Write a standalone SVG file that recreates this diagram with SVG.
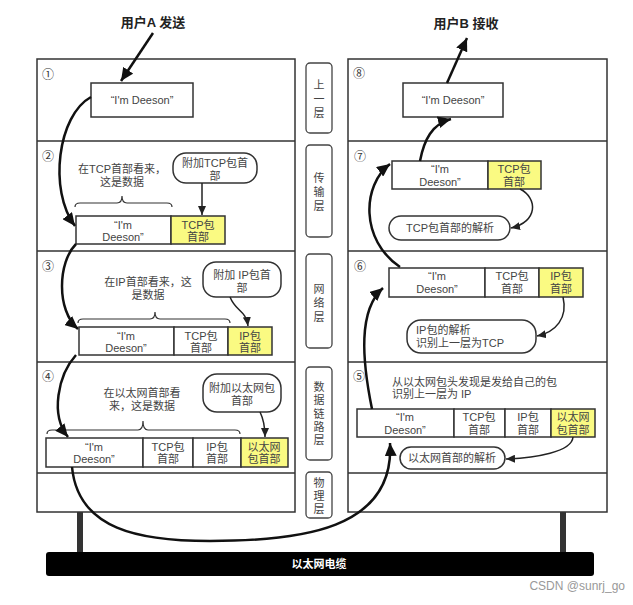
<svg xmlns="http://www.w3.org/2000/svg" width="633" height="605" viewBox="0 0 633 605">
<style>
.frame{fill:#fff;stroke:#333;stroke-width:1.5}
.div{stroke:#333;stroke-width:1.5}
.cell{fill:#fff;stroke:#333;stroke-width:1.5}
.hdr{fill:#fafa82;stroke:#333;stroke-width:1.5}
.bub{fill:#fff;stroke:#333;stroke-width:1.5}
.lay{fill:#fff;stroke:#444;stroke-width:1.3}
.t{font-family:"Liberation Sans","Noto Sans CJK SC",sans-serif;font-size:11px;fill:#444;text-anchor:middle;dominant-baseline:central}
.tl{text-anchor:start}
.num{font-family:"Noto Sans CJK SC","DejaVu Sans",sans-serif;font-size:12px;fill:#333;dominant-baseline:central;text-anchor:middle}
.title{font-family:"Liberation Sans","Noto Sans CJK SC",sans-serif;font-size:13px;font-weight:bold;fill:#222;text-anchor:middle;dominant-baseline:central}
.brace{fill:none;stroke:#333;stroke-width:1.2}
.big{fill:none;stroke:#111;stroke-width:2.5;marker-end:url(#ah)}
.sm{fill:none;stroke:#222;stroke-width:1.5;marker-end:url(#ahs)}
</style>
<defs>
<marker id="ah" markerUnits="userSpaceOnUse" markerWidth="14" markerHeight="12" refX="13" refY="6" orient="auto"><path d="M0,0 L13,6 L0,12 Z" fill="#111"/></marker>
<marker id="ahs" markerUnits="userSpaceOnUse" markerWidth="10" markerHeight="8" refX="9" refY="4" orient="auto"><path d="M0,0 L9,4 L0,8 Z" fill="#222"/></marker>
</defs>
<rect width="633" height="605" fill="#fff"/>

<g id="left-stack">
<rect class="frame" x="37" y="59" width="258" height="453"/>
<line class="div" x1="37" y1="141" x2="295" y2="141"/>
<line class="div" x1="37" y1="251" x2="295" y2="251"/>
<line class="div" x1="37" y1="362" x2="295" y2="362"/>
<line class="div" x1="37" y1="473" x2="295" y2="473"/>
</g>
<g id="right-stack">
<rect class="frame" x="348" y="59" width="259" height="453"/>
<line class="div" x1="348" y1="141" x2="607" y2="141"/>
<line class="div" x1="348" y1="251" x2="607" y2="251"/>
<line class="div" x1="348" y1="362" x2="607" y2="362"/>
<line class="div" x1="348" y1="473" x2="607" y2="473"/>
</g>

<g id="titleA"><text class="title" x="153" y="22">用户A 发送</text></g>
<g id="titleB"><text class="title" x="466" y="23">用户B 接收</text></g>

<g id="s1">
<text class="num" x="48" y="73">①</text>
<rect class="cell" x="91" y="83" width="102" height="34"/>
<text class="t" x="142" y="100">“I'm Deeson”</text>
</g>

<g id="s2">
<text class="num" x="48" y="155">②</text>
<text class="t" x="122" y="169">在TCP首部看来，</text>
<text class="t" x="122" y="182">这是数据</text>
<path class="brace" d="M75,207 Q75,203 80,203 L117,203 Q122,203 122,196 Q122,203 127,203 L167,203 Q172,203 172,207"/>
<rect class="bub" x="173" y="153" width="84" height="30" rx="13"/>
<text class="t" x="215" y="163">附加TCP包首</text>
<text class="t" x="215" y="176">部</text>
<rect class="cell" x="76" y="216" width="95" height="28"/>
<rect class="hdr" x="171" y="216" width="54" height="28"/>
<text class="t" x="123" y="225">“I'm</text>
<text class="t" x="123" y="237">Deeson”</text>
<text class="t" x="198" y="225">TCP包</text>
<text class="t" x="198" y="237">首部</text>
</g>

<g id="s3">
<text class="num" x="48" y="265">③</text>
<text class="t" x="148" y="282">在IP首部看来，这</text>
<text class="t" x="148" y="295">是数据</text>
<path class="brace" d="M78,323 Q78,319 83,319 L150,319 Q155,319 155,312 Q155,319 160,319 L225,319 Q230,319 230,323"/>
<rect class="bub" x="203" y="262" width="78" height="35" rx="13"/>
<text class="t" x="242" y="275">附加 IP包首</text>
<text class="t" x="242" y="288">部</text>
<rect class="cell" x="79" y="327" width="95" height="28"/>
<rect class="cell" x="174" y="327" width="54" height="28"/>
<rect class="hdr" x="228" y="327" width="44" height="28"/>
<text class="t" x="126" y="336">“I'm</text>
<text class="t" x="126" y="348">Deeson”</text>
<text class="t" x="201" y="336">TCP包</text>
<text class="t" x="201" y="348">首部</text>
<text class="t" x="250" y="336">IP包</text>
<text class="t" x="250" y="348">首部</text>
</g>

<g id="s4">
<text class="num" x="48" y="375">④</text>
<text class="t" x="142" y="393">在以太网首部看</text>
<text class="t" x="142" y="406">来，这是数据</text>
<path class="brace" d="M47,434 Q47,430 52,430 L138,430 Q143,430 143,421 Q143,430 148,430 L235,430 Q240,430 240,434"/>
<rect class="bub" x="203" y="374" width="78" height="38" rx="14"/>
<text class="t" x="242" y="388">附加以太网包</text>
<text class="t" x="242" y="401">首部</text>
<rect class="cell" x="46" y="438" width="97" height="29"/>
<rect class="cell" x="143" y="438" width="50" height="29"/>
<rect class="cell" x="193" y="438" width="48" height="29"/>
<rect class="hdr" x="241" y="438" width="47" height="29"/>
<text class="t" x="94" y="447">“I'm</text>
<text class="t" x="94" y="459">Deeson”</text>
<text class="t" x="168" y="447">TCP包</text>
<text class="t" x="168" y="459">首部</text>
<text class="t" x="217" y="447">IP包</text>
<text class="t" x="217" y="459">首部</text>
<text class="t" x="264" y="447">以太网</text>
<text class="t" x="264" y="459">包首部</text>
</g>

<g id="s8">
<text class="num" x="359" y="72">⑧</text>
<rect class="cell" x="403" y="83" width="100" height="34"/>
<text class="t" x="453" y="100">“I'm Deeson”</text>
</g>

<g id="s7">
<text class="num" x="360" y="155">⑦</text>
<rect class="cell" x="392" y="161" width="96" height="28"/>
<rect class="hdr" x="488" y="161" width="53" height="28"/>
<text class="t" x="440" y="169">“I'm</text>
<text class="t" x="440" y="182">Deeson”</text>
<text class="t" x="514" y="169">TCP包</text>
<text class="t" x="514" y="182">首部</text>
<rect class="bub" x="389" y="216" width="121" height="24" rx="12"/>
<text class="t" x="450" y="228">TCP包首部的解析</text>
</g>

<g id="s6">
<text class="num" x="360" y="265">⑥</text>
<rect class="cell" x="389" y="268" width="96" height="29"/>
<rect class="cell" x="485" y="268" width="54" height="29"/>
<rect class="hdr" x="539" y="268" width="44" height="29"/>
<text class="t" x="437" y="276">“I'm</text>
<text class="t" x="437" y="289">Deeson”</text>
<text class="t" x="512" y="276">TCP包</text>
<text class="t" x="512" y="289">首部</text>
<text class="t" x="561" y="276">IP包</text>
<text class="t" x="561" y="289">首部</text>
<rect class="bub" x="407" y="320" width="129" height="33" rx="14"/>
<text class="t tl" x="416" y="330">IP包的解析</text>
<text class="t tl" x="416" y="343">识别上一层为TCP</text>
</g>

<g id="s5">
<text class="num" x="359" y="375">⑤</text>
<text class="t tl" x="392" y="382">从以太网包头发现是发给自己的包</text>
<text class="t tl" x="392" y="394">识别上一层为 IP</text>
<rect class="cell" x="357" y="409" width="97" height="28"/>
<rect class="cell" x="454" y="409" width="51" height="28"/>
<rect class="cell" x="505" y="409" width="46" height="28"/>
<rect class="hdr" x="551" y="409" width="44" height="28"/>
<text class="t" x="405" y="417">“I'm</text>
<text class="t" x="405" y="430">Deeson”</text>
<text class="t" x="479" y="417">TCP包</text>
<text class="t" x="479" y="430">首部</text>
<text class="t" x="528" y="417">IP包</text>
<text class="t" x="528" y="430">首部</text>
<text class="t" x="573" y="417">以太网</text>
<text class="t" x="573" y="430">包首部</text>
<rect class="bub" x="400" y="447" width="105" height="22" rx="11"/>
<text class="t" x="452" y="458">以太网首部的解析</text>
</g>

<g id="layers">
<rect class="lay" x="306" y="63" width="26" height="70" rx="4"/>
<text class="t" x="319" y="85">上</text><text class="t" x="319" y="99">一</text><text class="t" x="319" y="113">层</text>
<rect class="lay" x="306" y="145" width="26" height="92" rx="4"/>
<text class="t" x="319" y="178">传</text><text class="t" x="319" y="192">输</text><text class="t" x="319" y="206">层</text>
<rect class="lay" x="306" y="254" width="26" height="94" rx="4"/>
<text class="t" x="319" y="289">网</text><text class="t" x="319" y="303">络</text><text class="t" x="319" y="317">层</text>
<rect class="lay" x="306" y="367" width="26" height="93" rx="4"/>
<text class="t" x="319" y="387">数</text><text class="t" x="319" y="400">据</text><text class="t" x="319" y="414">链</text><text class="t" x="319" y="427">路</text><text class="t" x="319" y="440">层</text>
<rect class="lay" x="306" y="472" width="26" height="46" rx="4"/>
<text class="t" x="319" y="483">物</text><text class="t" x="319" y="496">理</text><text class="t" x="319" y="509">层</text>
</g>

<g id="cable">
<rect x="77" y="512" width="6" height="41" fill="#333"/>
<rect x="560" y="512" width="6" height="41" fill="#333"/>
<rect x="46" y="552" width="548" height="24" rx="3" fill="#000"/>
<text class="title" x="319" y="564" style="fill:#fff;font-size:11px">以太网电缆</text>
</g>

<g id="connectors">
<path class="big" d="M153,33 L121,81"/>
<path class="big" d="M91,97 C58,115 48,190 75,226"/>
<path class="big" d="M76,244 C58,262 56,310 78,329"/>
<path class="big" d="M76,355 C58,375 50,415 68,437"/>
<path class="big" d="M72,467 C78,530 140,541 210,541 C300,541 395,530 390,443"/>
<path class="big" d="M372,409 C362,360 358,310 383,288"/>
<path class="big" d="M400,267 C360,240 362,185 390,164"/>
<path class="big" d="M420,161 C424,140 432,124 451,119"/>
<path class="big" d="M447,83 L467,38"/>
<path class="sm" d="M202,183 L202,215"/>
<path class="sm" d="M230,297 C236,312 246,310 248,326"/>
<path class="sm" d="M260,412 C264,420 265,428 265,437"/>
<path class="sm" d="M520,189 C538,198 538,222 511,228"/>
<path class="sm" d="M563,297 C568,318 556,332 537,336"/>
<path class="sm" d="M573,437 C572,452 535,458 506,459"/>
</g>

<text x="625" y="590" text-anchor="end" style="font-family:'Liberation Sans',sans-serif;font-size:12px;fill:#999">CSDN @sunrj_go</text>
</svg>
